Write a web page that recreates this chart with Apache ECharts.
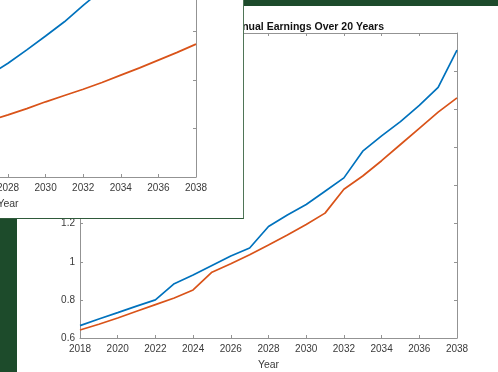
<!DOCTYPE html>
<html>
<head>
<meta charset="utf-8">
<script src="https://cdn.jsdelivr.net/npm/echarts@6/dist/echarts.min.js"></script>
<style>
  html, body { margin: 0; padding: 0; }
  body { width: 498px; height: 372px; background: #1d4b2b; position: relative; overflow: hidden; font-family: "Liberation Sans", Arial, sans-serif; }
  #back { position: absolute; left: 17px; top: 6px; width: 481px; height: 366px; background: #ffffff; }
  #frontPanel { position: absolute; left: 0; top: 0; width: 243px; height: 218px; background: #ffffff; overflow: hidden;
    border-right: 1px solid #4f7557; border-bottom: 1px solid #2f5a3a; }
  #front { position: absolute; left: -260px; top: -300px; width: 503px; height: 518px; }
</style>
</head>
<body>
<div id="back"></div>
<div id="frontPanel"><div id="front"></div></div>
<script>
// ---- data ----
const years = [2018,2019,2020,2021,2022,2023,2024,2025,2026,2027,2028,2029,2030,2031,2032,2033,2034,2035,2036,2037,2038];
// main (back) figure: Annual Earnings Over 20 Years
const blueEarnings   = [0.665,0.70,0.733,0.767,0.80,0.885,0.93,0.98,1.03,1.072,1.185,1.245,1.30,1.37,1.44,1.58,1.66,1.735,1.82,1.915,2.11];
const orangeEarnings = [0.642,0.672,0.705,0.74,0.775,0.81,0.852,0.945,0.99,1.037,1.088,1.14,1.195,1.255,1.38,1.45,1.53,1.615,1.70,1.785,1.86];
// overlapping (front) figure: smooth curves
const blueSmooth   = [0.74,0.80,0.87,0.95,1.03,1.12,1.22,1.32,1.43,1.55,1.672,1.81,1.954,2.10,2.27,2.43,2.61,2.81,3.02,3.25,3.50];
const orangeSmooth = [0.64,0.68,0.72,0.765,0.81,0.86,0.91,0.965,1.02,1.08,1.14,1.205,1.275,1.34,1.405,1.475,1.55,1.625,1.705,1.785,1.87];
const titleText = 'Annual Earnings Over 20 Years';
const xName = 'Year';

const BLUE = '#0072BD', ORANGE = '#D95319';
const AX = '#939393', LBL = '#3a3a3a';
const FONT = 'Liberation Sans';

function pairs(xs, ys) { return xs.map((x, i) => [x, ys[i]]); }

function axisX(pos, showLabel) {
  return {
    type: 'value', position: pos, min: 2018, max: 2038, interval: 2,
    axisLine: { show: true, onZero: false, lineStyle: { color: AX, width: 1 } },
    axisTick: { show: true, inside: true, length: 3, lineStyle: { color: AX } },
    axisLabel: { show: showLabel, color: LBL, fontSize: 10, fontFamily: FONT, margin: 6,
      formatter: v => String(v) },
    splitLine: { show: false },
    name: showLabel ? xName : '', nameLocation: 'middle', nameGap: 22,
    nameTextStyle: { color: LBL, fontSize: 10.5, fontFamily: FONT }
  };
}
function axisY(pos, showLabel, min, max, interval) {
  return {
    type: 'value', position: pos, min: min, max: max, interval: interval,
    axisLine: { show: true, onZero: false, lineStyle: { color: AX, width: 1 } },
    axisTick: { show: true, inside: true, length: 3, lineStyle: { color: AX } },
    axisLabel: { show: showLabel, color: LBL, fontSize: 10, fontFamily: FONT, margin: 5 },
    splitLine: { show: false }
  };
}
function line(data, color) {
  return { type: 'line', data: data, showSymbol: false, symbol: 'none', xAxisIndex: 0, yAxisIndex: 0,
    lineStyle: { color: color, width: 1.7 }, itemStyle: { color: color }, z: 3 };
}

// ---- back chart ----
const back = echarts.init(document.getElementById('back'), null, { renderer: 'canvas' });
back.setOption({
  animation: false,
  title: { text: titleText, right: 114, top: 16, padding: 0,
    textStyle: { fontSize: 10.5, fontWeight: 'bold', color: '#111', fontFamily: FONT } },
  grid: { left: 63, right: 41, top: 27, height: 305, containLabel: false, outerBoundsMode: 'none' },
  xAxis: [axisX('bottom', true), axisX('top', false)],
  yAxis: [axisY('left', true, 0.6, 2.2, 0.2), axisY('right', false, 0.6, 2.2, 0.2)],
  series: [line(pairs(years, blueEarnings), BLUE), line(pairs(years, orangeEarnings), ORANGE)]
});

// ---- front chart ----
const front = echarts.init(document.getElementById('front'), null, { renderer: 'canvas' });
front.setOption({
  animation: false,
  grid: { left: 80, right: 47, top: 137.5, bottom: 41, containLabel: false, outerBoundsMode: 'none' },
  xAxis: [axisX('bottom', true), axisX('top', false)],
  yAxis: [axisY('left', true, 0.5, 4, 0.5), axisY('right', false, 0.5, 4, 0.5)],
  series: [line(pairs(years, blueSmooth), BLUE), line(pairs(years, orangeSmooth), ORANGE)]
});
</script>
</body>
</html>
